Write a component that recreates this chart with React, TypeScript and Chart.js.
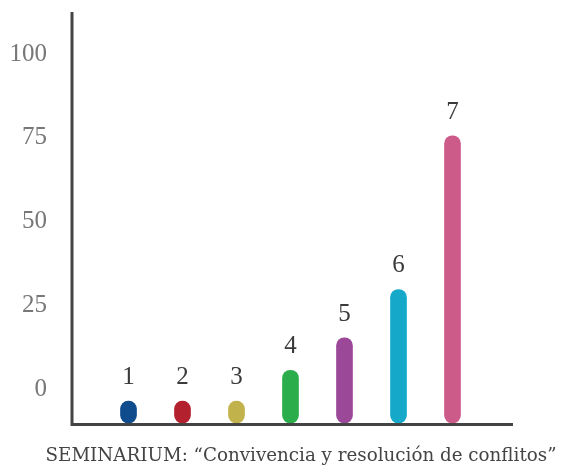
import React, { useEffect, useRef } from "react";
import { Chart, registerables } from "chart.js";

Chart.register(...registerables);

const categories = ["", "1", "2", "3", "4", "5", "6", "7", ""];
const barTops = [null, -3.5, -3.5, -3.5, 5.7, 15.4, 29.8, 75.6, null];
const barBase = -10;
const barColors = ["#ffffff", "#0e4c8e", "#b4212e", "#c1b24c", "#2aad4a", "#9b4898", "#15a8c9", "#cd5b8a", "#ffffff"];
const yTicks = [0, 25, 50, 75, 100];
const titleText = "SEMINARIUM: \u201cConvivencia y resoluci\u00f3n de conflitos\u201d";

const overlay = {
  id: "overlay",
  afterDraw(chart: any) {
    const ctx = chart.ctx;
    const area = chart.chartArea;
    const y = chart.scales.y;
    const meta = chart.getDatasetMeta(0);
    ctx.save();
    // axes
    ctx.strokeStyle = "#444444";
    ctx.lineWidth = 3;
    ctx.beginPath();
    ctx.moveTo(72, area.top);
    ctx.lineTo(72, area.bottom + 1.5);
    ctx.lineTo(513, area.bottom + 1.5);
    ctx.stroke();
    // y tick labels
    ctx.fillStyle = "#777777";
    ctx.font = "25px 'Liberation Serif'";
    ctx.textAlign = "right";
    ctx.textBaseline = "middle";
    yTicks.forEach((t) => {
      ctx.fillText(String(t), 47, y.getPixelForValue(t));
    });
    // bar labels
    ctx.fillStyle = "#3a3a3a";
    ctx.font = "25px 'Liberation Serif'";
    ctx.textAlign = "center";
    ctx.textBaseline = "alphabetic";
    meta.data.forEach((bar: any, i: number) => {
      const v = barTops[i];
      if (v == null) return;
      ctx.fillText(categories[i], bar.x, y.getPixelForValue(v) - 17);
    });
    // title
    ctx.fillStyle = "#444444";
    ctx.font = "18.3px 'DejaVu Serif'";
    ctx.textAlign = "center";
    ctx.fillText(titleText, 301, 461);
    ctx.restore();
  },
};

export default function App() {
  const ref = useRef<HTMLCanvasElement>(null);
  useEffect(() => {
    document.body.style.margin = "0";
    const chart = new Chart(ref.current!, {
      type: "bar",
      data: {
        labels: categories,
        datasets: [
          {
            data: barTops as any,
            base: barBase,
            backgroundColor: barColors,
            barThickness: 16,
            borderRadius: 8,
            borderSkipped: false,
          } as any,
        ],
      },
      options: {
        animation: false,
        responsive: false,
        maintainAspectRatio: false,
        layout: { padding: { left: 74.5, right: 54.5, top: 12, bottom: 42 } },
        plugins: { legend: { display: false }, tooltip: { enabled: false }, title: { display: false } },
        scales: {
          x: { type: "category", offset: false, display: false },
          y: { min: -10, max: 112.5, display: false },
        },
      },
      plugins: [overlay],
    });
    return () => chart.destroy();
  }, []);
  return (
    <div style={{ position: "fixed", left: 0, top: 0, width: 561, height: 465 }}>
      <canvas ref={ref} width={561} height={465} style={{ width: 561, height: 465 }} />
    </div>
  );
}
